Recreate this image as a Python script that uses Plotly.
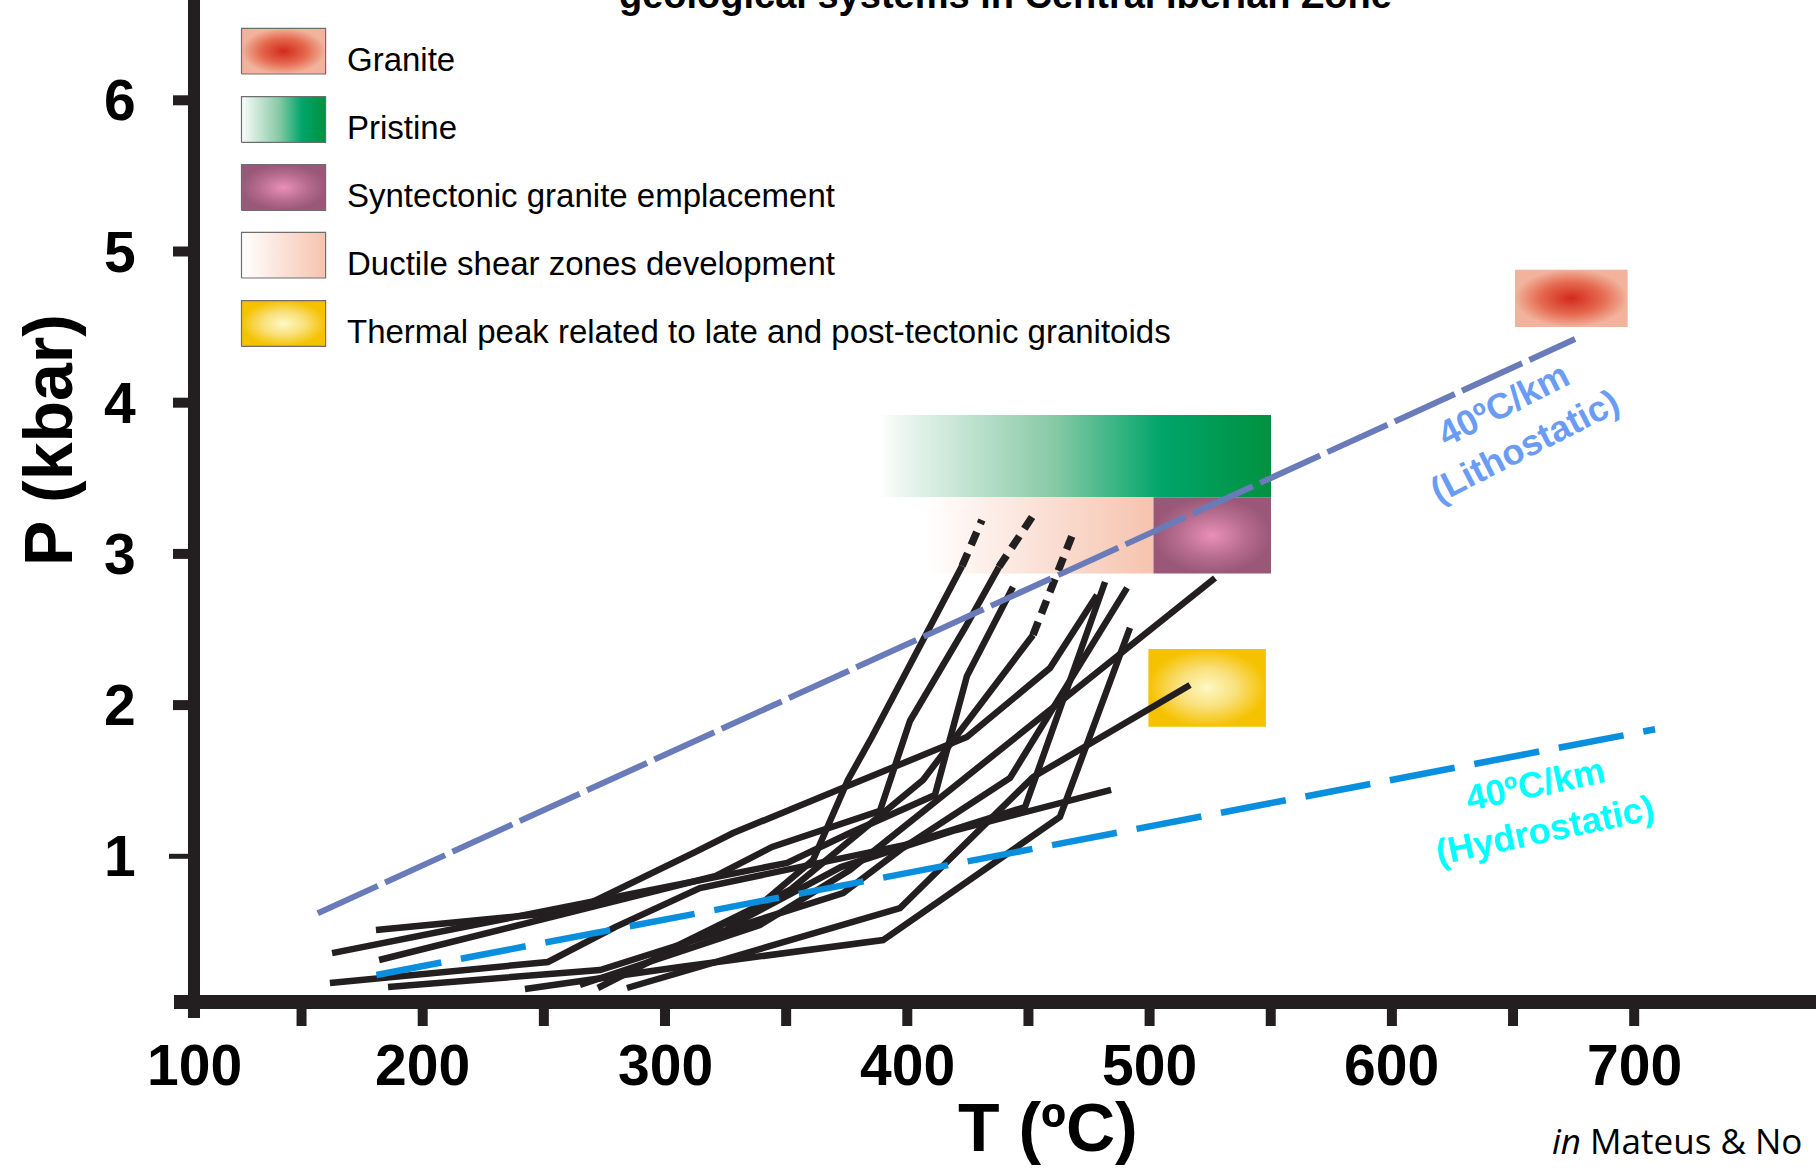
import plotly.graph_objects as go

# ---------------- canvas / axis calibration (pixels) ----------------
W, H = 1816, 1168
X200, PX_PER_C = 422.7, 2.423      # pixel x of T=200 and pixels per degree
Y1, PX_PER_KBAR = 856.3, 151.2     # pixel y of P=1 and pixels per kbar


def T(px):
    return 200 + (px - X200) / PX_PER_C


def P(py):
    return 1 + (Y1 - py) / PX_PER_KBAR


# ---------------- data ----------------
x_tick_values = [100, 200, 300, 400, 500, 600, 700]
x_tick_labels = ["100", "200", "300", "400", "500", "600", "700"]
x_minor_ticks = [150, 200, 250, 300, 350, 400, 450, 500, 550, 600, 650, 700]
y_tick_values = [1, 2, 3, 4, 5, 6]
y_tick_labels = ["1", "2", "3", "4", "5", "6"]

# geothermal gradients (T degC, P kbar)
litho_T = [156.7, 675.6]
litho_P = [0.623, 4.421]
hydro_T = [180.9, 708.6]
hydro_P = [0.215, 1.840]

# boxes (T range, P range)
granite_T, granite_P = [650.8, 697.3], [4.50, 4.88]
pristine_T, pristine_P = [388.6, 550.1], [3.374, 3.919]
ductile_T, ductile_P = [407.5, 501.6], [2.871, 3.374]
syntect_T, syntect_P = [501.6, 550.1], [2.871, 3.374]
thermal_T, thermal_P = [499.5, 548.0], [1.857, 2.371]

# fluid inclusion P-T paths
path_A_T = [180.7, 262.4, 312.4, 328.1, 374.3, 424.6, 458.9, 478.3]
path_A_P = [0.513, 0.638, 1.028, 1.154, 1.458, 1.789, 2.245, 2.728]
path_B_T = [294.6, 339.2, 361.1, 375.5, 385.4, 407.3, 422.6]
path_B_P = [0.327, 0.678, 0.976, 1.505, 1.789, 2.464, 2.920]
path_C_T = [162.6, 306.2, 350.4, 376.3, 411.4, 424.6, 443.6]
path_C_P = [0.360, 0.823, 0.956, 1.154, 1.405, 2.192, 2.781]
path_D_T = [182.0, 321.0, 344.2, 388.7, 401.1, 423.8, 437.8]
path_D_P = [0.314, 0.870, 1.062, 1.300, 1.895, 2.510, 2.913]
path_E_T = [272.3, 351.6, 406.5, 451.9]
path_E_P = [0.129, 0.777, 1.505, 2.464]
path_F_T = [161.7, 251.7, 279.4, 314.4, 399.1, 448.6, 481.6]
path_F_P = [0.162, 0.301, 0.532, 0.790, 1.075, 1.326, 2.814]
path_G_T = [185.7, 273.2, 373.5, 398.2, 442.4, 490.7]
path_G_P = [0.136, 0.248, 0.757, 1.055, 1.518, 2.775]
path_H_T = [242.2, 306.2, 390.0, 438.3, 463.0, 491.9]
path_H_P = [0.122, 0.268, 0.446, 0.976, 1.260, 2.510]
path_I_T = [264.9, 339.2, 376.3, 527.0]
path_I_P = [0.149, 0.546, 0.909, 2.841]
path_J_T = [284.3, 397.0, 451.9, 516.7]
path_J_P = [0.129, 0.658, 1.524, 2.133]
path_K_T = [325.4, 372.6, 420.1, 484.1]
path_K_P = [0.526, 0.929, 1.174, 1.439]

# dashed (inferred) continuations
ext_B_T, ext_B_P = [422.6, 430.8], [2.920, 3.224]
ext_D_T, ext_D_P = [437.8, 451.5], [2.913, 3.244]
ext_E_T, ext_E_P = [451.9, 468.4], [2.464, 3.138]

legend_labels = ["Granite", "Pristine", "Syntectonic granite emplacement",
                 "Ductile shear zones development",
                 "Thermal peak related to late and post-tectonic granitoids"]

# ---------------- styles ----------------
INK = "#231f20"
FONT_B = "Liberation Sans"
GRAD = {
    "granite": dict(type="radial", colorscale=[[0, "#d32a1b"], [0.55, "#e5694f"], [1, "#f2b29c"]]),
    "pristine": dict(type="horizontal", colorscale=[[0, "#ffffff"], [0.05, "#eef7f2"], [0.45, "#86c9a5"],
                                                     [0.72, "#00a56a"], [1, "#00913f"]]),
    "syntect": dict(type="radial", colorscale=[[0, "#ea90b8"], [0.6, "#b56b8e"], [1, "#9a5878"]]),
    "ductile": dict(type="horizontal", colorscale=[[0, "#ffffff"], [1, "#f6c3ae"]]),
    "thermal": dict(type="radial", colorscale=[[0, "#fdf8c4"], [0.5, "#f9e07a"], [1, "#f5c200"]]),
}

fig = go.Figure()


def rect(tr, pr, grad, line=None):
    fig.add_trace(go.Scatter(
        x=[tr[0], tr[1], tr[1], tr[0], tr[0]], y=[pr[0], pr[0], pr[1], pr[1], pr[0]],
        mode="lines" if line else "none", fill="toself", fillgradient=grad,
        line=line or dict(width=0), hoverinfo="skip", showlegend=False))


# boxes in the diagram
rect(pristine_T, pristine_P, GRAD["pristine"])
rect(ductile_T, ductile_P, GRAD["ductile"])
rect(syntect_T, syntect_P, GRAD["syntect"])
rect(thermal_T, thermal_P, GRAD["thermal"])
rect(granite_T, granite_P, GRAD["granite"])

# legend swatches
leg_x0, leg_x1 = 241.5, 325.6
leg_tops = [28.3, 96.7, 164.7, 232.3, 300.7]
leg_h = 45.7
leg_keys = ["granite", "pristine", "syntect", "ductile", "thermal"]
for top, key in zip(leg_tops, leg_keys):
    rect([T(leg_x0), T(leg_x1)], [P(top + leg_h), P(top)], GRAD[key], line=dict(color="#6d6e70", width=1.2))

# P-T paths
paths = [(path_A_T, path_A_P), (path_B_T, path_B_P), (path_C_T, path_C_P), (path_D_T, path_D_P),
         (path_E_T, path_E_P), (path_F_T, path_F_P), (path_G_T, path_G_P), (path_H_T, path_H_P),
         (path_I_T, path_I_P), (path_J_T, path_J_P), (path_K_T, path_K_P)]
for xs, ys in paths:
    fig.add_trace(go.Scatter(x=xs, y=ys, mode="lines", line=dict(color=INK, width=6.5),
                             hoverinfo="skip", showlegend=False))
for xs, ys in [(ext_B_T, ext_B_P), (ext_D_T, ext_D_P), (ext_E_T, ext_E_P)]:
    fig.add_trace(go.Scatter(x=xs, y=ys, mode="lines", line=dict(color=INK, width=7.5, dash="14px,9px"),
                             hoverinfo="skip", showlegend=False))

# geotherms
fig.add_trace(go.Scatter(x=litho_T, y=litho_P, mode="lines",
                         line=dict(color="#6a7bba", width=6, dash="66px,8px"),
                         hoverinfo="skip", showlegend=False))
fig.add_trace(go.Scatter(x=hydro_T, y=hydro_P, mode="lines",
                         line=dict(color="#0a8fdf", width=6.5, dash="66px,20px"),
                         hoverinfo="skip", showlegend=False))

# ---------------- axes drawn as shapes ----------------
shapes = []
axis_x_px = 194.0
shapes.append(dict(type="line", xref="x", yref="y", x0=T(174), x1=T(W + 5), y0=P(1002), y1=P(1002),
                   line=dict(color=INK, width=14)))
shapes.append(dict(type="line", xref="x", yref="y", x0=T(axis_x_px), x1=T(axis_x_px), y0=P(-5), y1=P(1018),
                   line=dict(color=INK, width=12)))
for v in x_minor_ticks:
    shapes.append(dict(type="line", xref="x", yref="y", x0=v, x1=v, y0=P(1008), y1=P(1026),
                       line=dict(color=INK, width=10)))
for v in y_tick_values:
    if v == 1:
        shapes.append(dict(type="line", xref="x", yref="y", x0=T(169), x1=T(190), y0=v, y1=v,
                           line=dict(color=INK, width=5)))
    else:
        shapes.append(dict(type="line", xref="x", yref="y", x0=T(173), x1=T(190), y0=v, y1=v,
                           line=dict(color=INK, width=10)))

ann = []
for v, lab in zip(x_tick_values, x_tick_labels):
    xv = T(axis_x_px) if v == 100 else v
    ann.append(dict(x=xv, y=P(1065), xref="x", yref="y", text="<b>%s</b>" % lab, showarrow=False,
                    xanchor="center", yanchor="middle", font=dict(family=FONT_B, size=57, color="#000")))
for v, lab in zip(y_tick_values, y_tick_labels):
    ann.append(dict(x=T(138), y=v, xref="x", yref="y", text="<b>%s</b>" % lab, showarrow=False,
                    xanchor="right", yanchor="middle", font=dict(family=FONT_B, size=57, color="#000")))

ann.append(dict(x=T(1048), y=P(1127), xref="x", yref="y", text="<b>T (ºC)</b>", showarrow=False,
                xanchor="center", yanchor="middle", font=dict(family=FONT_B, size=68, color="#000")))
ann.append(dict(x=T(48), y=P(440), xref="x", yref="y", text="<b>P (kbar)</b>", showarrow=False,
                textangle=-90, xanchor="center", yanchor="middle",
                font=dict(family=FONT_B, size=68, color="#000")))
ann.append(dict(x=T(1005), y=1 + 5.0 / H, xref="x", yref="paper",
                text="<b>geological systems in Central Iberian Zone</b>", showarrow=False,
                xanchor="center", yanchor="middle", font=dict(family=FONT_B, size=38, color="#000")))
ann.append(dict(x=T(1550), y=P(1140), xref="x", yref="y",
                text="<i>in</i> Mateus & No", showarrow=False,
                xanchor="left", yanchor="middle", font=dict(family="Open Sans", size=35, color="#000")))

# legend labels
for top, lab in zip(leg_tops, legend_labels):
    ann.append(dict(x=T(345), y=P(top + leg_h / 2 + 8), xref="x", yref="y", text=lab, showarrow=False,
                    xanchor="left", yanchor="middle", font=dict(family=FONT_B, size=33, color="#000")))

# geotherm labels
ann.append(dict(x=T(1514), y=P(425), xref="x", yref="y", text="<b>40ºC/km<br>(Lithostatic)</b>",
                showarrow=False, textangle=-27, xanchor="center", yanchor="middle",
                font=dict(family=FONT_B, size=36, color="#6a9cf5")))
ann.append(dict(x=T(1540), y=P(807), xref="x", yref="y", text="<b>40ºC/km<br>(Hydrostatic)</b>",
                showarrow=False, textangle=-12, xanchor="center", yanchor="middle",
                font=dict(family=FONT_B, size=36, color="#00ffff")))

fig.update_layout(
    width=W, height=H, autosize=False,
    margin=dict(l=0, r=0, t=0, b=0),
    paper_bgcolor="white", plot_bgcolor="white",
    xaxis=dict(range=[T(0), T(W)], visible=False, fixedrange=True),
    yaxis=dict(range=[P(H), P(0)], visible=False, fixedrange=True),
    shapes=shapes, annotations=ann, showlegend=False,
)

fig.write_html("out.html")
